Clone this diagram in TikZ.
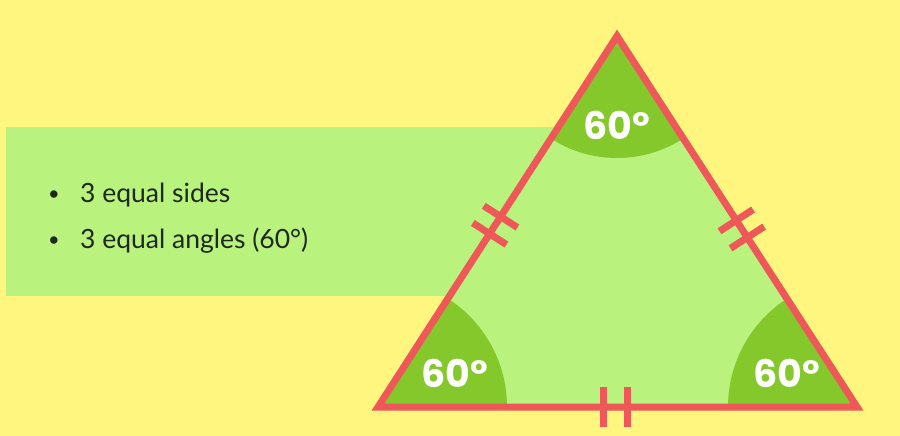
\documentclass[tikz,border=0pt]{standalone}
\usepackage{fontspec}
\setmainfont{Lato}
\newfontfamily\labelfont{Poppins}
\usetikzlibrary{calc}
\definecolor{bgyellow}{RGB}{255,246,128}
\definecolor{lightgreen}{RGB}{185,242,125}
\definecolor{darkgreen}{RGB}{132,200,44}
\definecolor{redline}{RGB}{239,88,88}
\definecolor{textdark}{RGB}{30,40,30}
\begin{document}
\begin{tikzpicture}[x=1pt,y=-1pt,
  side/.style={draw=redline, line width=7pt, line join=miter},
  tickmark/.style={draw=redline, line width=7pt},
  anglelabel/.style={text=white, font=\labelfont\bfseries\fontsize{38}{38}\selectfont, inner sep=0pt},
  bullettext/.style={font=\fontsize{26.5}{30}\selectfont, text=textdark, anchor=base west, inner sep=0pt},
  bulletdot/.style={font=\fontsize{20}{24}\selectfont, text=textdark, anchor=base, inner sep=0pt}]
\fill[bgyellow] (0,0) rectangle (900,436);
\useasboundingbox (0,0) rectangle (900,436);
\fill[lightgreen] (6,127) rectangle (600,296);
\coordinate (L) at (378,407);
\coordinate (R) at (857,407);
\coordinate (T) at (617,36);
\fill[lightgreen] (L) -- (R) -- (T) -- cycle;
\begin{scope}
  \clip (L) -- (R) -- (T) -- cycle;
  \fill[darkgreen] (T) circle (122pt);
  \fill[darkgreen] (L) circle (129pt);
  \fill[darkgreen] (R) circle (129pt);
\end{scope}
% tick marks
\foreach \a/\b/\t in {L/T/0.467, L/T/0.513, T/R/0.497, T/R/0.543, L/R/0.470, L/R/0.520}{
  \coordinate (P) at ($(\a)!\t!(\b)$);
  \draw[tickmark] ($(P)!20pt!90:(\b)$) -- ($(P)!20pt!-90:(\b)$);
}
\draw[side] (L) -- (R) -- (T) -- cycle;
\node[anglelabel] (aT) at (617,125) {60°};
\node[anglelabel] (aL) at (455,373) {60°};
\node[anglelabel] (aR) at (787,373) {60°};
\node[bulletdot] (d1) at (54,200) {•};
\node[bullettext] (b1) at (80,202) {3 equal sides};
\node[bulletdot] (d2) at (54,246) {•};
\node[bullettext] (b2) at (80,248) {3 equal angles (60°)};
\end{tikzpicture}
\end{document}
